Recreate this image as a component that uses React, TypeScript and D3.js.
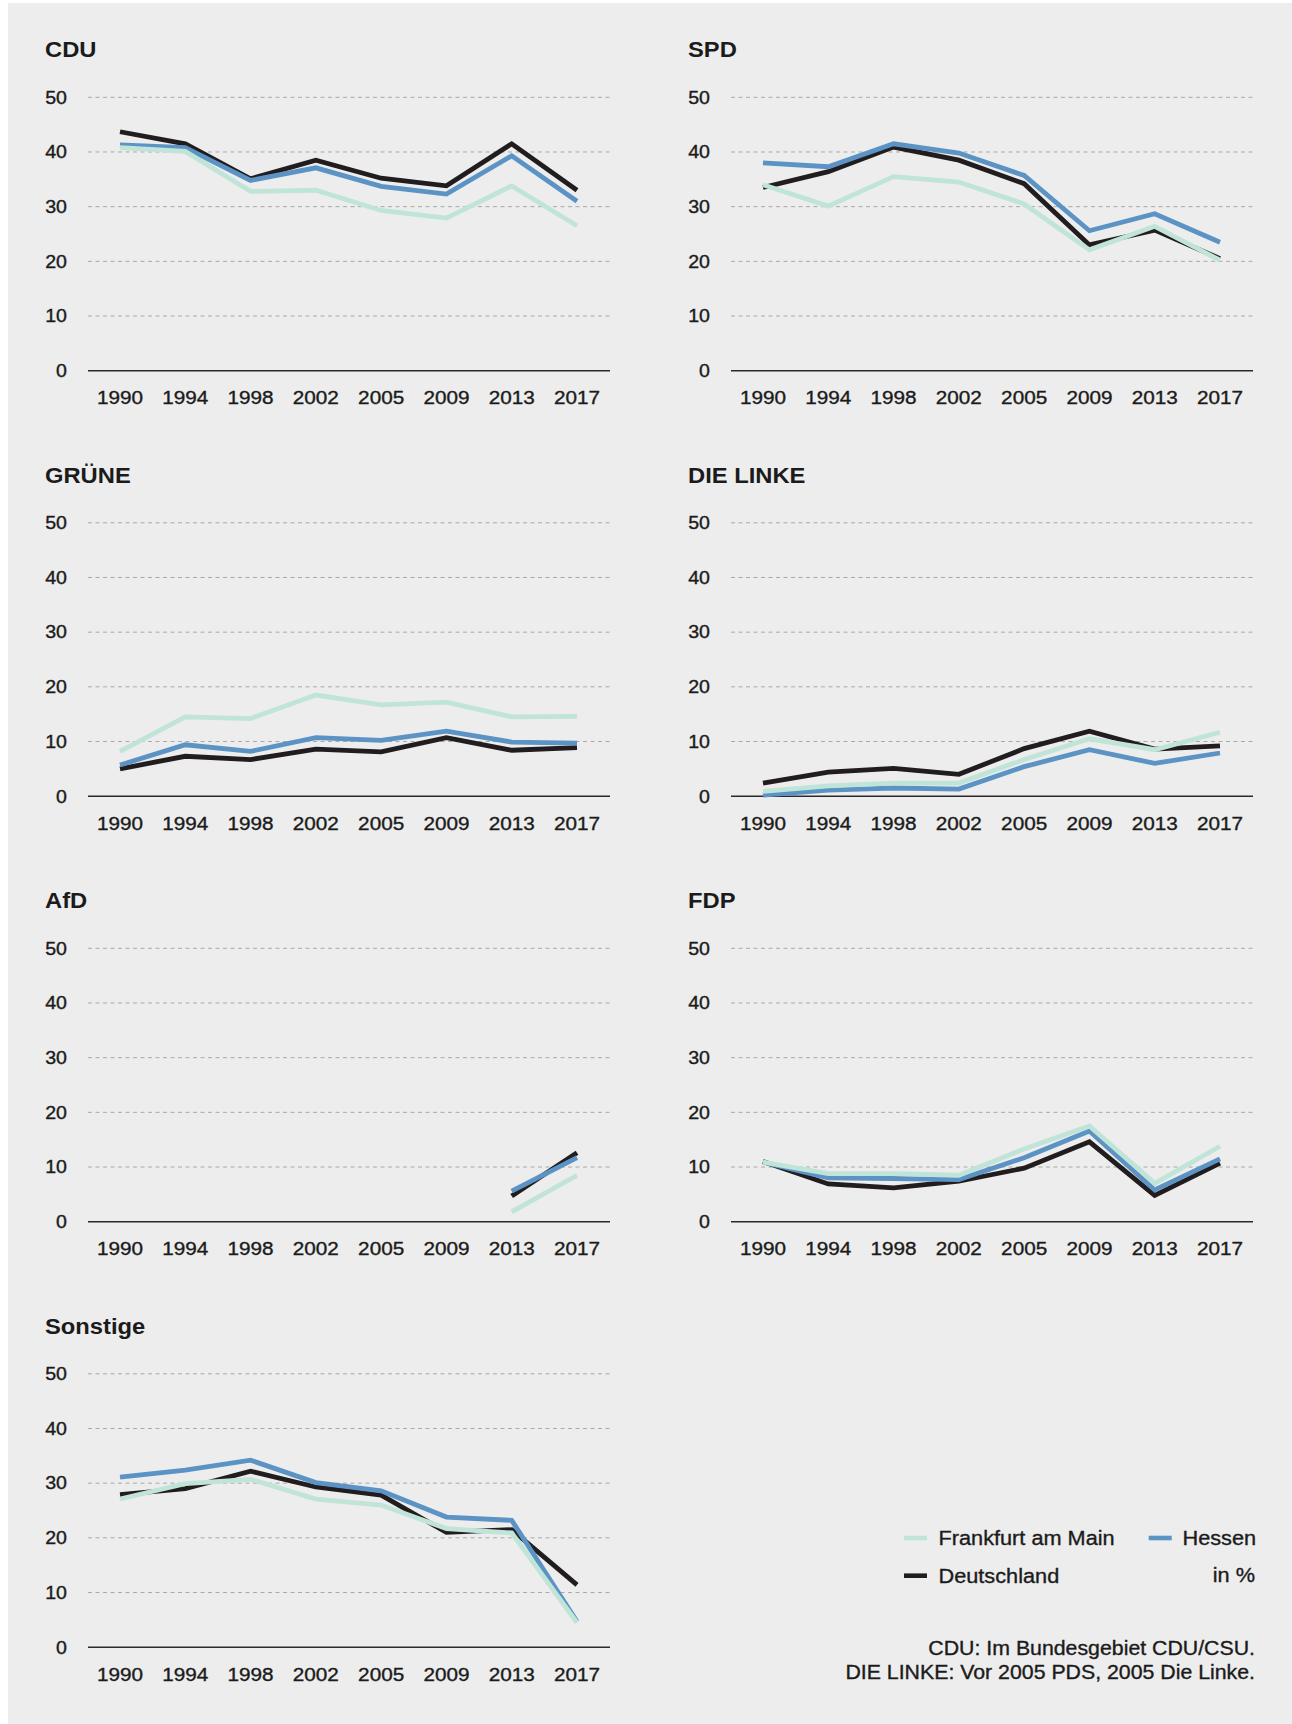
import React from 'react';
import * as d3 from 'd3';

// Bundestagswahl Zweitstimmen, in %
const years = ['1990', '1994', '1998', '2002', '2005', '2009', '2013', '2017'];
const parties = ['CDU', 'SPD', 'GRÜNE', 'DIE LINKE', 'AfD', 'FDP', 'Sonstige'];
const yTicks = [0, 10, 20, 30, 40, 50];

// rows follow the order of `parties`
const frankfurtValues: (number | null)[][] = [
  [40.8, 40.1, 32.8, 33.0, 29.3, 27.9, 33.8, 26.5],
  [34.0, 30.1, 35.5, 34.5, 30.5, 22.1, 26.4, 20.2],
  [8.2, 14.5, 14.2, 18.5, 16.7, 17.2, 14.5, 14.6],
  [0.9, 1.9, 2.4, 2.4, 6.7, 10.5, 8.5, 11.7],
  [null, null, null, null, null, null, 1.8, 8.5],
  [10.9, 8.8, 8.8, 8.5, 13.3, 17.5, 7.0, 13.8],
  [27.1, 29.9, 30.7, 27.1, 26.0, 21.7, 20.9, 4.5],
];
const hessenValues: (number | null)[][] = [
  [41.3, 40.8, 34.8, 37.1, 33.7, 32.3, 39.3, 31.0],
  [38.0, 37.3, 41.5, 39.8, 35.7, 25.6, 28.7, 23.5],
  [5.7, 9.4, 8.2, 10.7, 10.2, 11.9, 9.9, 9.7],
  [0.2, 1.1, 1.5, 1.3, 5.4, 8.5, 6.0, 7.9],
  [null, null, null, null, null, null, 5.6, 11.7],
  [10.9, 8.0, 7.9, 7.7, 11.7, 16.6, 5.8, 11.5],
  [31.1, 32.4, 34.2, 30.1, 28.6, 23.8, 23.2, 4.7],
];
const deutschlandValues: (number | null)[][] = [
  [43.7, 41.5, 35.1, 38.5, 35.2, 33.8, 41.5, 33.0],
  [33.5, 36.4, 40.9, 38.5, 34.2, 23.0, 25.7, 20.5],
  [5.0, 7.3, 6.7, 8.6, 8.1, 10.7, 8.4, 8.9],
  [2.4, 4.4, 5.1, 4.0, 8.7, 11.9, 8.6, 9.2],
  [null, null, null, null, null, null, 4.7, 12.6],
  [11.0, 6.9, 6.2, 7.4, 9.8, 14.6, 4.8, 10.7],
  [27.9, 29.0, 32.2, 29.3, 27.8, 21.0, 21.5, 11.4],
];

const seriesNames = ['Frankfurt am Main', 'Hessen', 'Deutschland'];
const seriesColors = ['#c1e4d8', '#5b93c5', '#211c1d'];
const notes = ['CDU: Im Bundesgebiet CDU/CSU.', 'DIE LINKE: Vor 2005 PDS, 2005 Die Linke.'];

const W = 1292;
const H = 1724;
const ROW_STEP = 425.5;
const COL_STEP = 643;
const FONT = '"Liberation Sans", Arial, Helvetica, sans-serif';
const INK = '#1b1b1b';

function Txt({ x, y, size, weight = 400, anchor = 'start', sx = 1.1, dy, children }: any) {
  return (
    <text
      transform={`translate(${x},${y}) scale(${sx},1)`}
      fontSize={size}
      fontWeight={weight}
      textAnchor={anchor}
      dy={dy}
      fill={INK}
      stroke={weight < 700 ? INK : 'none'}
      strokeWidth={weight < 700 ? 0.35 : 0}
      fontFamily={FONT}
    >
      {children}
    </text>
  );
}

function Panel({ index }: { index: number }) {
  const ox = (index % 2) * COL_STEP;
  const oy = Math.floor(index / 2) * ROW_STEP;

  const x = d3.scalePoint<string>().domain(years).range([ox + 120, ox + 577]);
  const y = d3.scaleLinear().domain([0, 50]).range([oy + 370.7, oy + 97.3]);
  const gridX0 = ox + 88;
  const gridX1 = ox + 610;

  const line = d3
    .line<number | null>()
    .defined((d) => d != null)
    .x((_d, i) => x(years[i]) as number)
    .y((d) => y(d as number));

  // drawing order: Deutschland below, Frankfurt on top
  const series = [deutschlandValues[index], hessenValues[index], frankfurtValues[index]];
  const colors = [seriesColors[2], seriesColors[1], seriesColors[0]];

  return (
    <g>
      <Txt x={ox + 45} y={oy + 57.3} size={22} weight={700} sx={1.08}>
        {parties[index]}
      </Txt>
      {yTicks.map((t) => (
        <g key={t}>
          {t > 0 && (
            <line
              x1={gridX0}
              x2={gridX1}
              y1={y(t)}
              y2={y(t)}
              stroke="#a9a9a9"
              strokeWidth={1}
              strokeDasharray="4,3.5"
            />
          )}
          <Txt x={ox + 67} y={y(t)} dy="0.36em" size={17.5} anchor="end" sx={1.12}>
            {t}
          </Txt>
        </g>
      ))}
      <line x1={gridX0} x2={gridX1} y1={y(0)} y2={y(0)} stroke="#2a2a2a" strokeWidth={1.6} />
      {years.map((yr) => (
        <Txt key={yr} x={x(yr)} y={oy + 404} size={18.5} anchor="middle" sx={1.12}>
          {yr}
        </Txt>
      ))}
      {series.map((s, i) => (
        <path key={i} d={line(s) || ''} fill="none" stroke={colors[i]} strokeWidth={4.8} />
      ))}
    </g>
  );
}

export default function App() {
  const legendPos = [
    { sx: 904, tx: 938.5, y: 1538 },
    { sx: 1148.7, tx: 1182.5, y: 1538 },
    { sx: 904, tx: 938.5, y: 1575.7 },
  ];
  return (
    <svg
      width={W}
      height={H}
      viewBox={`0 0 ${W} ${H}`}
      style={{ position: 'absolute', left: 0, top: 0, display: 'block' }}
    >
      <rect x={0} y={0} width={W} height={H} fill="#ffffff" />
      <rect x={8} y={3} width={W - 8} height={H - 3} fill="#ededed" />
      {parties.map((_p, i) => (
        <Panel key={i} index={i} />
      ))}
      {seriesNames.map((name, i) => (
        <g key={name}>
          <line
            x1={legendPos[i].sx}
            x2={legendPos[i].sx + 23}
            y1={legendPos[i].y}
            y2={legendPos[i].y}
            stroke={seriesColors[i]}
            strokeWidth={4.6}
          />
          <Txt x={legendPos[i].tx} y={legendPos[i].y + 6.8} size={20.5} sx={1.06}>
            {name}
          </Txt>
        </g>
      ))}
      <Txt x={1255} y={1582.3} size={20.5} anchor="end" sx={1.06}>
        in %
      </Txt>
      {notes.map((n, i) => (
        <Txt key={i} x={1255} y={1655 + i * 24} size={20} anchor="end" sx={1.065}>
          {n}
        </Txt>
      ))}
    </svg>
  );
}
